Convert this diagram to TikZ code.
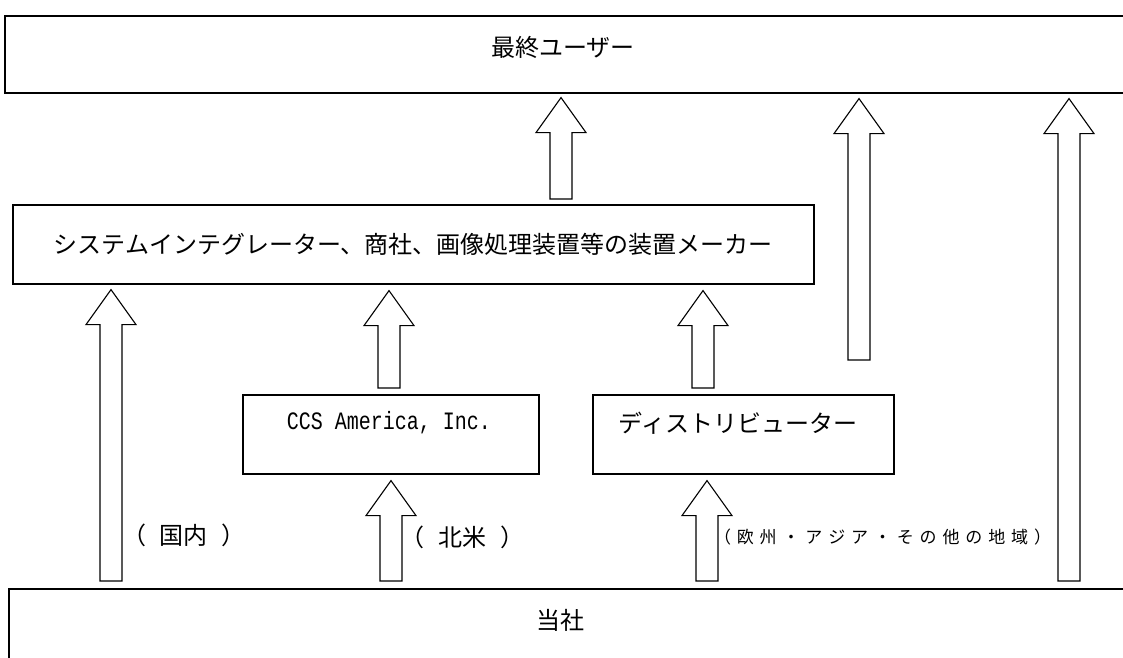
\documentclass[tikz,border=0pt]{standalone}
\usepackage{fontspec}
\usepackage{graphicx}
\setmainfont{Noto Sans CJK JP}
\newfontfamily\monofont{Liberation Mono}
\usetikzlibrary{calc}
\tikzset{
  boxnode/.style={draw, line width=1.6pt, rectangle, inner sep=0pt, anchor=north west},
  lbl/.style={inner sep=0pt, font=\fontsize{24pt}{28pt}\selectfont},
  smalllbl/.style={inner sep=0pt, font=\fontsize{17pt}{20pt}\selectfont},
  blockarr/.style={draw, line width=1.1pt, line join=miter, fill=white},
}
\newcommand\barrow[3]{%
  \draw[blockarr] let \p1=#2, \p2=#3 in
    ({#1pt-11pt},\y1) -- ({#1pt-11pt},{\y2-35pt}) -- ({#1pt-25pt},{\y2-35pt})
    -- (#1pt,\y2) -- ({#1pt+25pt},{\y2-35pt}) -- ({#1pt+11pt},{\y2-35pt})
    -- ({#1pt+11pt},\y1) -- cycle;}
\begin{document}
\begin{tikzpicture}[x=1pt,y=-1pt]
\clip (0,0) rectangle (1123,657);
\fill[white] (0,0) rectangle (1123,657);
% boxes
\node[boxnode, minimum width=1126pt, minimum height=77pt] (top) at (4,15) {};
\node[boxnode, minimum width=801pt, minimum height=79pt, lbl] (mid) at (12,204)
  {システムインテグレーター、商社、画像処理装置等の装置メーカー};
\node[boxnode, minimum width=296pt, minimum height=79pt] (ccs) at (242,394) {};
\node[boxnode, minimum width=301pt, minimum height=79pt] (dist) at (592,394) {};
\node[boxnode, minimum width=1122pt, minimum height=90pt] (base) at (8,588) {};
% box texts
\node[lbl] (toptext) at (563,47) {最終ユーザー};
\node[inner sep=0pt] (ccstext) at (389,423)
  {\scalebox{1}[1.25]{\monofont\fontsize{20pt}{24pt}\selectfont CCS America, Inc.}};
\node[lbl] (disttext) at (738,423) {ディストリビューター};
\node[lbl] (basetext) at (560,620) {当社};
% arrows
\barrow{561}{([yshift=5pt]mid.north)}{([yshift=-4pt]top.south)}
\barrow{859}{([yshift=34pt]dist.north)}{([yshift=-5pt]top.south)}
\barrow{1069}{([yshift=7pt]base.north)}{([yshift=-5pt]top.south)}
\barrow{703}{([yshift=6pt]dist.north)}{([yshift=-6pt]mid.south)}
\barrow{389}{([yshift=6pt]ccs.north)}{([yshift=-6pt]mid.south)}
\barrow{111}{([yshift=7pt]base.north)}{([yshift=-5pt]mid.south)}
\barrow{391}{([yshift=7pt]base.north)}{([yshift=-6pt]ccs.south)}
\barrow{707}{([yshift=7pt]base.north)}{([yshift=-6pt]dist.south)}
% labels
\node[lbl] (lbldom) at (183.5,535) {\makebox[123pt]{（\hfill 国内\hfill ）}};
\node[lbl] (lblna) at (462.5,537) {\makebox[125pt]{（\hfill 北米\hfill ）}};
\node[smalllbl] (lblother) at (882.5,537)
  {\makebox[337pt][s]{（ 欧 州 ・ ア ジ ア ・ そ の 他 の 地 域 ）}};
\end{tikzpicture}
\end{document}
